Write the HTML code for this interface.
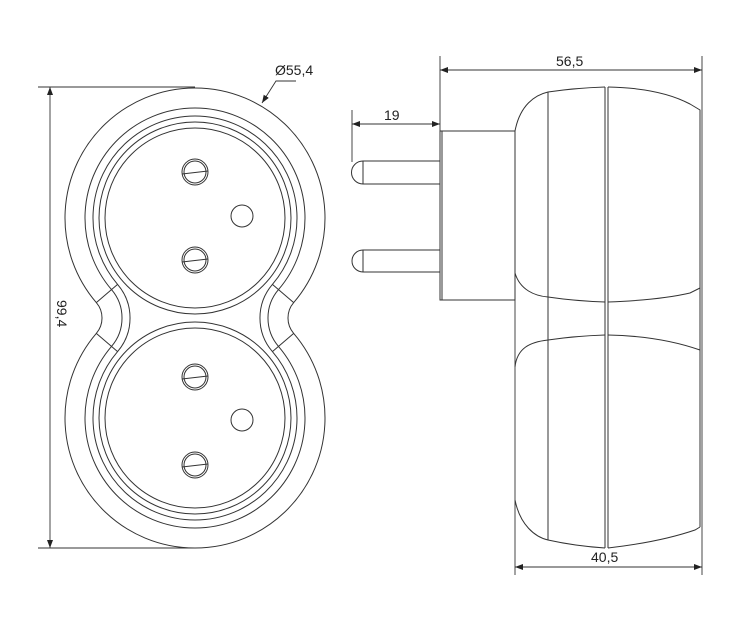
<!DOCTYPE html>
<html><head><meta charset="utf-8"><style>
html,body{margin:0;padding:0;background:#fff;}
svg{display:block;}
text{font-family:"Liberation Sans",sans-serif;font-size:14px;fill:#222;}
</style></head><body>
<svg width="750" height="617" viewBox="0 0 750 617" xmlns="http://www.w3.org/2000/svg">
<defs>
<marker id="a" markerWidth="8" markerHeight="6" refX="8" refY="3" orient="auto-start-reverse" markerUnits="userSpaceOnUse">
<path d="M0,0 L8,3 L0,6 z" fill="#222"/></marker>
</defs>
<g fill="none" stroke="#333" stroke-width="1">
<path d="M96.3,302.6 A130,130 0 1 1 293.7,302.6 A23.6,23.6 0 0 0 293.7,333.4 A130,130 0 1 1 96.3,333.4 A23.6,23.6 0 0 0 96.3,302.6 Z"/>
<path d="M111.5,289.6 A110,110 0 1 1 278.5,289.6 A43.6,43.6 0 0 0 278.5,346.4 A110,110 0 1 1 111.5,346.4 A43.6,43.6 0 0 0 111.5,289.6 Z"/>
<path d="M117.6,284.4 A102,102 0 1 1 272.4,284.4 A51.6,51.6 0 0 0 272.4,351.6 A102,102 0 1 1 117.6,351.6 A51.6,51.6 0 0 0 117.6,284.4 Z"/>
<line x1="96.3" y1="302.6" x2="117.6" y2="284.4"/>
<line x1="96.3" y1="333.4" x2="117.6" y2="351.6"/>
<line x1="293.7" y1="302.6" x2="272.4" y2="284.4"/>
<line x1="293.7" y1="333.4" x2="272.4" y2="351.6"/>
<circle cx="195" cy="218" r="96"/><circle cx="195" cy="218" r="90"/>
<circle cx="195" cy="418" r="96"/><circle cx="195" cy="418" r="90"/>
<circle cx="195" cy="172" r="13"/><circle cx="195" cy="172" r="11"/><line x1="182" y1="174" x2="208" y2="171"/>
<circle cx="195" cy="260" r="13"/><circle cx="195" cy="260" r="11"/><line x1="182" y1="262" x2="208" y2="259"/>
<circle cx="242" cy="216" r="11"/>
<circle cx="195" cy="377" r="13"/><circle cx="195" cy="377" r="11"/><line x1="182" y1="379" x2="208" y2="376"/>
<circle cx="195" cy="465" r="13"/><circle cx="195" cy="465" r="11"/><line x1="182" y1="467" x2="208" y2="464"/>
<circle cx="242" cy="420" r="11"/>
</g>
<g fill="none" stroke="#333" stroke-width="0.9">
<line x1="38" y1="87" x2="195" y2="87"/>
<line x1="38" y1="548" x2="195" y2="548"/>
<line x1="50" y1="87" x2="50" y2="548" marker-start="url(#a)" marker-end="url(#a)"/>
<polyline points="262,103 276,81 296,81" marker-start="url(#a)"/>
<line x1="440" y1="56" x2="440" y2="131"/>
<line x1="702" y1="56" x2="702" y2="575"/>
<line x1="440" y1="70" x2="702" y2="70" marker-start="url(#a)" marker-end="url(#a)"/>
<line x1="352" y1="110" x2="352" y2="162"/>
<line x1="352" y1="124" x2="440" y2="124" marker-start="url(#a)" marker-end="url(#a)"/>
<line x1="515" y1="300" x2="515" y2="575"/>
<line x1="515" y1="567" x2="702" y2="567" marker-start="url(#a)" marker-end="url(#a)"/>
</g>
<g fill="none" stroke="#333" stroke-width="1">
<rect x="440" y="131" width="75" height="169"/>
<line x1="442" y1="131" x2="442" y2="300"/>
<path d="M440,161 H363 A11.5,11.5 0 0 0 363,184 H440"/>
<line x1="363" y1="161" x2="363" y2="184"/>
<path d="M440,250 H363 A11,11 0 0 0 363,272 H440"/>
<line x1="363" y1="250" x2="363" y2="272"/>
<line x1="515" y1="131" x2="515" y2="300"/>
<path d="M515,131 C520,105 535,95 548,92 Q575,88 605,87"/>
<path d="M608,87 Q660,88 690,104 L700,110 L700,288"/>
<path d="M515,273 C520,290 535,296 548,297 Q575,301 605,302"/>
<path d="M608,302 Q660,300 690,293 L700,288"/>
<line x1="548" y1="92" x2="548" y2="540"/>
<line x1="605" y1="87" x2="605" y2="548"/>
<line x1="608" y1="87" x2="608" y2="548"/>
<path d="M515,367 C517,348 530,342 548,340 Q575,336 605,335"/>
<path d="M608,335 Q660,336 700,350 L700,527"/>
<path d="M515,500 C520,525 535,537 548,540 Q575,546 605,548"/>
<path d="M608,548 Q660,542 695,530 L700,527"/>
<line x1="700" y1="110" x2="700" y2="527"/>
</g>
<text x="275" y="75">Ø55,4</text>
<text x="0" y="0" transform="translate(57,300) rotate(90)">99,4</text>
<text x="556" y="66">56,5</text>
<text x="384" y="120">19</text>
<text x="591" y="562">40,5</text>
</svg>
</body></html>
